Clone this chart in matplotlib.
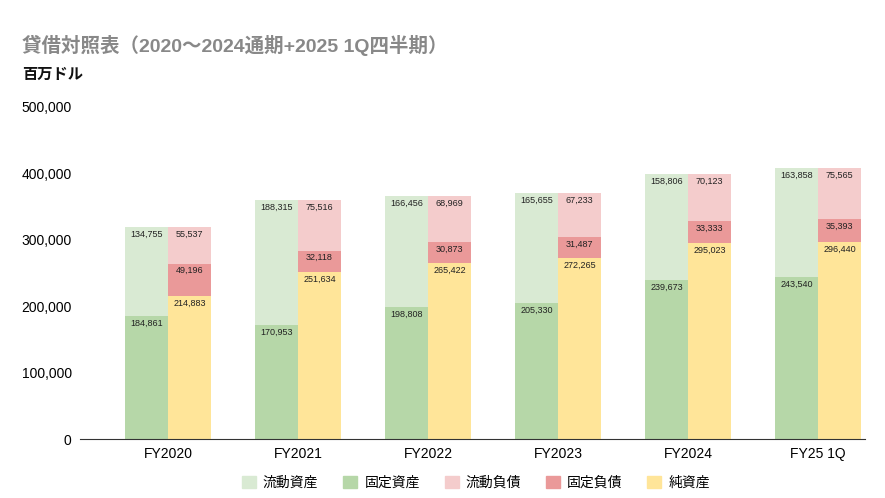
import matplotlib
matplotlib.use("Agg")
import matplotlib.pyplot as plt
from matplotlib.patches import Patch

plt.rcParams["font.family"] = ["Liberation Sans", "Noto Sans CJK JP"]

categories = ["FY2020", "FY2021", "FY2022", "FY2023", "FY2024", "FY25 1Q"]
current_assets = [134755, 188315, 166456, 165655, 158806, 163858]
fixed_assets = [184861, 170953, 198808, 205330, 239673, 243540]
current_liab = [55537, 75516, 68969, 67233, 70123, 75565]
fixed_liab = [49196, 32118, 30873, 31487, 33333, 35393]
net_assets = [214883, 251634, 265422, 272265, 295023, 296440]
yticks = [0, 100000, 200000, 300000, 400000, 500000]

c_ca, c_fa, c_cl, c_fl, c_na = "#d9ead3", "#b6d7a8", "#f4cccc", "#ea9999", "#ffe599"

fig = plt.figure(figsize=(8.85, 4.98), dpi=100)
ax = fig.add_axes([80/885, 1-439/498, 785/885, 332/498])
w = 0.33
x = list(range(len(categories)))
xa = [i - w/2 for i in x]
xl = [i + w/2 for i in x]

def seg(xs, bottoms, vals, color):
    ax.bar(xs, vals, w, bottom=bottoms, color=color, linewidth=0)
    for xi, b, v in zip(xs, bottoms, vals):
        ax.text(xi, b + v - 4000, f"{v:,}", ha="center", va="top", fontsize=6.5, color="#222222")

zeros = [0]*len(x)
seg(xa, zeros, fixed_assets, c_fa)
seg(xa, fixed_assets, current_assets, c_ca)
seg(xl, zeros, net_assets, c_na)
seg(xl, net_assets, fixed_liab, c_fl)
b3 = [a + b for a, b in zip(net_assets, fixed_liab)]
seg(xl, b3, current_liab, c_cl)

ax.set_xlim(-0.677, 5.36)
ax.set_ylim(0, 500000)
ax.set_yticks(yticks)
ax.set_yticklabels([f"{v:,}" for v in yticks], fontsize=10)
ax.set_xticks(x)
ax.set_xticklabels(categories, fontsize=10)
for s in ["top", "right", "left"]:
    ax.spines[s].set_visible(False)
ax.spines["bottom"].set_color("#333333")
ax.tick_params(length=0, pad=6)

fig.text(22/885, 1-45/498, "貸借対照表（2020～2024通期+2025 1Q四半期）", fontsize=14, fontweight="bold", color="#888888", va="center")
fig.text(22/885, 1-75/498, "百万ドル", fontsize=11, fontweight="bold", color="#111111", va="center")

handles = [Patch(color=c) for c in [c_ca, c_fa, c_cl, c_fl, c_na]]
fig.legend(handles, ["流動資産", "固定資産", "流動負債", "固定負債", "純資産"], loc="center",
           bbox_to_anchor=(476/885, 1-483/498), ncol=5, frameon=False, fontsize=10,
           handlelength=1, handleheight=1, columnspacing=1.8, handletextpad=0.5)
fig.savefig("out.png", dpi=100)
